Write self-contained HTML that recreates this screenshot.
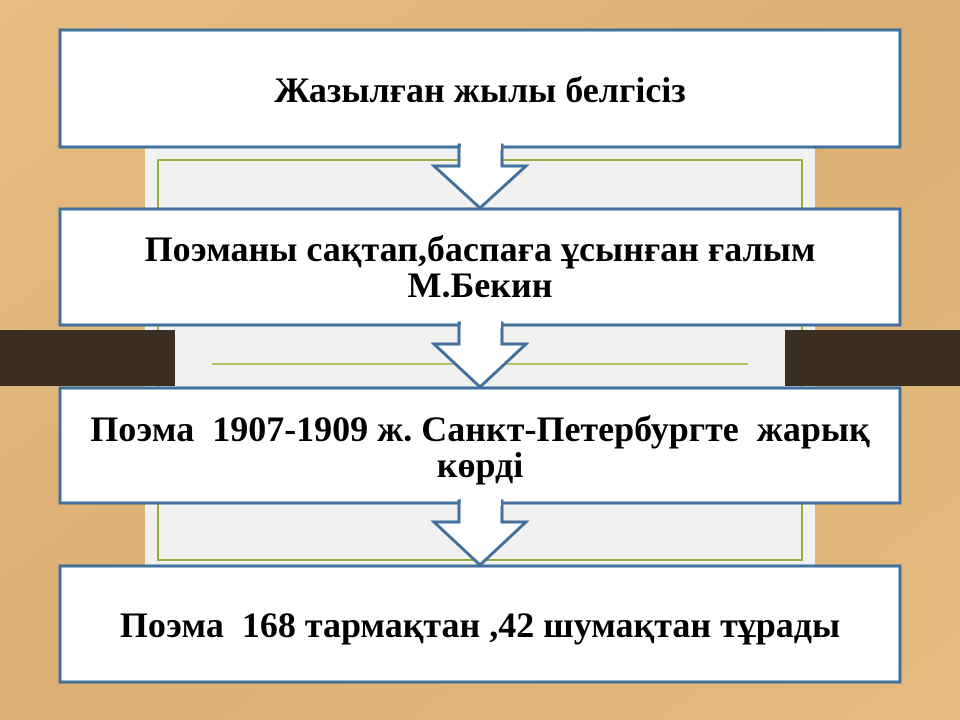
<!DOCTYPE html>
<html><head><meta charset="utf-8"><style>
body{margin:0;width:960px;height:720px;overflow:hidden;background:#e2b77a;}
svg{display:block}
text{font-family:"Liberation Serif",serif;font-weight:bold;font-size:36px;fill:#000;text-anchor:middle;white-space:pre}
</style></head><body>
<svg width="960" height="720" viewBox="0 0 960 720">
<defs><linearGradient id="bg" x1="0" y1="0" x2="1" y2="1"><stop offset="0" stop-color="#e6bd82"/><stop offset="0.5" stop-color="#dcb073"/><stop offset="1" stop-color="#e5bb7e"/></linearGradient></defs>
<rect width="960" height="720" fill="url(#bg)"/>
<rect x="145" y="140" width="670" height="425" fill="#f1f1f1"/>
<rect x="158" y="160" width="644" height="400" fill="none" stroke="#9aab3c" stroke-width="2"/>
<rect x="0" y="330" width="175" height="56" fill="#3a2d22"/>
<rect x="785" y="330" width="175" height="56" fill="#3a2d22"/>
<line x1="212" y1="364" x2="748" y2="364" stroke="#b6c26a" stroke-width="2"/>
<g fill="#fff" stroke="#41719c" stroke-width="3">
<rect x="60" y="30" width="840" height="117"/>
<polygon points="459,145 459,166 434,166 480,208 526,166 502,166 502,145"/>
<rect x="60" y="209" width="840" height="116"/>
<polygon points="459,323 459,344 434,344 480,387 526,344 502,344 502,323"/>
<rect x="60" y="388" width="840" height="115"/>
<polygon points="459,501 459,522 434,522 480,565 526,522 502,522 502,501"/>
<rect x="60" y="566" width="840" height="116"/>
</g>
<rect x="461" y="140" width="40" height="10" fill="#fff"/>
<rect x="461" y="318" width="40" height="10" fill="#fff"/>
<rect x="461" y="496" width="40" height="10" fill="#fff"/>
<text x="480" y="102" xml:space="preserve">Жазылған жылы белгісіз</text>
<text x="480" y="261" xml:space="preserve">Поэманы сақтап,баспаға ұсынған ғалым</text>
<text x="480" y="297" xml:space="preserve">М.Бекин</text>
<text x="480" y="441" xml:space="preserve">Поэма  1907-1909 ж. Санкт-Петербургте  жарық</text>
<text x="480" y="477" xml:space="preserve">көрді</text>
<text x="480" y="637" xml:space="preserve">Поэма  168 тармақтан ,42 шумақтан тұрады</text>
</svg>
</body></html>
